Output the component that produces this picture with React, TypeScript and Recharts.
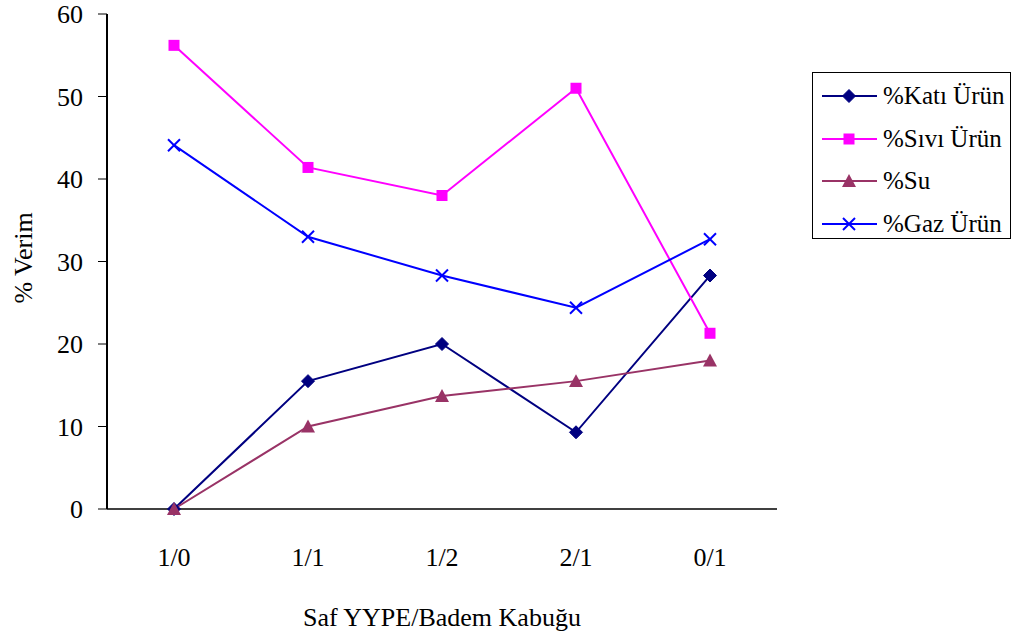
import React from 'react';
import { LineChart, Line, XAxis, YAxis } from 'recharts';

const categories = ['1/0', '1/1', '1/2', '2/1', '0/1'];
const katiUrun = [0, 15.5, 20, 9.3, 28.3];
const siviUrun = [56.2, 41.4, 38, 51, 21.3];
const su = [0, 10, 13.7, 15.5, 18];
const gazUrun = [44.1, 33, 28.3, 24.4, 32.7];
const yTicks = [0, 10, 20, 30, 40, 50, 60];

const data = categories.map((c, i) => ({
  idx: i,
  cat: c,
  kati: katiUrun[i],
  sivi: siviUrun[i],
  su: su[i],
  gaz: gazUrun[i],
}));

const boundaryTicks = [-0.5, 0.5, 1.5, 2.5, 3.5, 4.5];
const centerTicks = categories.map((_, i) => i);

const FONT = '"Liberation Serif", "Times New Roman", Times, serif';

type Shape = 'diamond' | 'square' | 'triangle' | 'x';

const marker = (shape: Shape, color: string, cx: number, cy: number, key?: any) => {
  if (shape === 'diamond') {
    const r = 6.5;
    return <path key={key} d={`M${cx},${cy - r}L${cx + r},${cy}L${cx},${cy + r}L${cx - r},${cy}Z`} fill={color} stroke={color} />;
  }
  if (shape === 'square') {
    const r = 5.5;
    return <rect key={key} x={cx - r} y={cy - r} width={2 * r} height={2 * r} fill={color} />;
  }
  if (shape === 'triangle') {
    const r = 7;
    return <path key={key} d={`M${cx},${cy - r}L${cx + r},${cy + r * 0.85}L${cx - r},${cy + r * 0.85}Z`} fill={color} />;
  }
  const r = 6;
  return (
    <g key={key}>
      <line x1={cx - r} y1={cy - r} x2={cx + r} y2={cy + r} stroke={color} strokeWidth={2} />
      <line x1={cx - r} y1={cy + r} x2={cx + r} y2={cy - r} stroke={color} strokeWidth={2} />
    </g>
  );
};

const series: { key: string; name: string; color: string; shape: Shape }[] = [
  { key: 'kati', name: '%Katı Ürün', color: '#000080', shape: 'diamond' },
  { key: 'sivi', name: '%Sıvı Ürün', color: '#FF00FF', shape: 'square' },
  { key: 'su', name: '%Su', color: '#993366', shape: 'triangle' },
  { key: 'gaz', name: '%Gaz Ürün', color: '#0000FF', shape: 'x' },
];

const renderTick = (anchor: 'middle' | 'end', fmt?: (v: any) => string) => (p: any) => {
  const v = p.payload?.value;
  return (
    <text
      x={p.x}
      y={p.y}
      dy={anchor === 'end' ? '0.35em' : '0.71em'}
      textAnchor={anchor}
      fontFamily={FONT}
      fontSize={26}
      fill="#000"
    >
      {fmt ? fmt(v) : v}
    </text>
  );
};

export default function App() {
  return (
    <div style={{ position: 'absolute', left: 0, top: 0, width: 1017, height: 641, background: '#fff', fontFamily: FONT }}>
      <LineChart
        width={1017}
        height={641}
        data={data}
        margin={{ top: 14, right: 240, bottom: 12, left: 7 }}
        style={{ fontFamily: FONT }}
      >
        <XAxis
          xAxisId="ticks"
          type="number"
          dataKey="idx"
          domain={[-0.5, 4.5]}
          ticks={boundaryTicks}
          tick={false}
          tickLine={{ stroke: '#000' }}
          tickSize={10}
          axisLine={false}
          height={0}
          interval={0}
        />
        <XAxis
          type="number"
          dataKey="idx"
          domain={[-0.5, 4.5]}
          ticks={centerTicks}
          interval={0}
          tick={renderTick('middle', (v: number) => categories[v] ?? '')}
          tickLine={false}
          tickSize={10}
          tickMargin={29}
          axisLine={{ stroke: '#000', strokeWidth: 1.5 }}
          height={120}
          label={{
            content: (p: any) => {
              const vb = p.viewBox;
              return (
                <text
                  x={vb.x + vb.width / 2}
                  y={vb.y + 117}
                  textAnchor="middle"
                  fontFamily={FONT}
                  fontSize={26}
                  fill="#000"
                >
                  Saf YYPE/Badem Kabuğu
                </text>
              );
            },
          }}
        />
        <XAxis
          xAxisId="top"
          orientation="top"
          type="number"
          dataKey="idx"
          domain={[-0.5, 4.5]}
          tick={false}
          tickLine={false}
          axisLine={{ stroke: '#000', strokeWidth: 1 }}
          height={0}
        />
        <YAxis
          domain={[0, 60]}
          ticks={yTicks}
          interval={0}
          tick={renderTick('end')}
          tickLine={{ stroke: '#000' }}
          tickSize={9}
          tickMargin={15}
          axisLine={{ stroke: '#000', strokeWidth: 2 }}
          width={100}
          label={{
            content: (p: any) => {
              const vb = p.viewBox;
              const cx = vb.x + 16;
              const cy = 258;
              return (
                <text
                  x={cx}
                  y={cy}
                  textAnchor="middle"
                  dominantBaseline="central"
                  transform={`rotate(-90, ${cx}, ${cy})`}
                  fontFamily={FONT}
                  fontSize={26}
                  fill="#000"
                >
                  % Verim
                </text>
              );
            },
          }}
        />
        <YAxis
          yAxisId="right"
          orientation="right"
          domain={[0, 60]}
          tick={false}
          tickLine={false}
          axisLine={{ stroke: '#000', strokeWidth: 1 }}
          width={0}
        />
        {series.map((s) => (
          <Line
            key={s.key}
            dataKey={s.key}
            name={s.name}
            stroke={s.color}
            strokeWidth={2}
            isAnimationActive={false}
            dot={(p: any) => marker(s.shape, s.color, p.cx, p.cy, `${s.key}-${p.index}`)}
            activeDot={false}
          />
        ))}
      </LineChart>
      <div
        style={{
          position: 'absolute',
          left: 812,
          top: 72,
          width: 199,
          height: 167,
          border: '1px solid #000',
          background: '#fff',
          boxSizing: 'border-box',
        }}
      >
        {series.map((s, i) => (
          <div
            key={s.key}
            style={{
              position: 'absolute',
              left: 9,
              top: 23 + i * 42.5 - 15,
              height: 30,
              display: 'flex',
              alignItems: 'center',
              whiteSpace: 'nowrap',
            }}
          >
            <svg width={56} height={30} style={{ display: 'block' }}>
              <line x1={0} y1={15} x2={55} y2={15} stroke={s.color} strokeWidth={2} />
              {marker(s.shape, s.color, 27, 15)}
            </svg>
            <span style={{ fontFamily: FONT, fontSize: 25, marginLeft: 5, lineHeight: '30px', color: '#000' }}>
              {s.name}
            </span>
          </div>
        ))}
      </div>
    </div>
  );
}
